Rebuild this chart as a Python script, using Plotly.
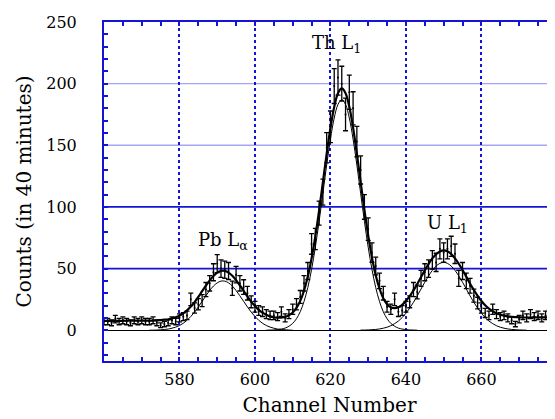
import plotly.graph_objects as go

channels = list(range(560, 681))

counts = [
    7, 7, 6, 9, 7, 8, 7, 6, 8, 7,
    8, 7, 7, 8, 6, 4, 5, 6, 8, 7,
    10, 11, 12, 25, 18, 21, 24, 33, 38, 47,
    54, 50, 49, 48, 34, 45, 38, 35, 30, 23,
    19, 16, 15, 13, 12, 12, 11, 15, 10, 13,
    17, 21, 27, 38, 48, 70, 74, 95, 112, 148,
    165, 198, 205, 200, 175, 193, 180, 153, 130, 100,
    82, 63, 52, 40, 30, 19, 17, 25, 15, 16,
    19, 23, 33, 31, 42, 47, 50, 57, 55, 66,
    63, 66, 68, 62, 42, 48, 40, 36, 28, 22,
    18, 14, 12, 17, 13, 11, 12, 10, 8, 5,
    9, 12, 10, 13, 11, 12, 10, 12, 13, 11, 12,
]

errors = [
    2.6, 2.6, 2.4, 3.0, 2.6, 2.8, 2.6, 2.4, 2.8, 2.6,
    2.8, 2.6, 2.6, 2.8, 2.4, 2.0, 2.2, 2.4, 2.8, 2.6,
    3.2, 3.3, 3.5, 5.0, 4.2, 4.6, 4.9, 5.7, 6.2, 6.9,
    7.3, 7.1, 7.0, 6.9, 5.8, 6.7, 6.2, 5.9, 5.5, 4.8,
    4.4, 4.0, 3.9, 3.6, 3.5, 3.5, 3.3, 3.9, 3.2, 3.6,
    4.1, 4.6, 5.2, 6.2, 6.9, 8.4, 8.6, 9.7, 10.6, 12.2,
    12.8, 14.1, 14.3, 14.1, 13.2, 13.9, 13.4, 12.4, 11.4, 10.0,
    9.1, 7.9, 7.2, 6.3, 5.5, 4.4, 4.1, 5.0, 3.9, 4.0,
    4.4, 4.8, 5.7, 5.6, 6.5, 6.9, 7.1, 7.5, 7.4, 8.1,
    7.9, 8.1, 8.2, 7.9, 6.5, 6.9, 6.3, 6.0, 5.3, 4.7,
    4.2, 3.7, 3.5, 4.1, 3.6, 3.3, 3.5, 3.2, 2.8, 2.2,
    3.0, 3.5, 3.2, 3.6, 3.3, 3.5, 3.2, 3.5, 3.6, 3.3, 3.5,
]

fit_total = [
    7.5, 7.5, 7.6, 7.6, 7.6, 7.6, 7.7, 7.7, 7.7, 7.7,
    7.8, 7.8, 7.8, 7.8, 7.9, 8.2, 8.5, 8.8, 9.6, 10.5,
    11.8, 13.6, 16.1, 19.2, 22.8, 27.0, 31.6, 36.1, 40.4, 44.0,
    46.7, 48.1, 48.1, 46.7, 44.2, 40.6, 36.3, 31.8, 27.4, 23.2,
    19.6, 16.5, 14.2, 12.5, 11.2, 10.4, 10.1, 10.2, 10.7, 12.1,
    14.4, 18.1, 23.8, 32.1, 43.5, 58.2, 76.3, 97.2, 120.1, 143.0,
    164.0, 181.1, 192.2, 196.1, 192.2, 181.2, 164.2, 143.2, 120.3, 97.6,
    76.9, 59.0, 44.5, 33.6, 26.0, 21.1, 18.5, 17.9, 18.6, 20.6,
    23.7, 27.6, 32.3, 37.4, 43.0, 48.5, 53.7, 58.2, 61.7, 63.9,
    64.8, 64.0, 61.8, 58.3, 53.9, 48.8, 43.3, 37.7, 32.6, 27.9,
    23.7, 20.2, 17.5, 15.4, 13.7, 12.5, 11.8, 11.2, 10.8, 10.6,
    10.5, 10.3, 10.3, 10.3, 10.4, 10.4, 10.4, 10.4, 10.5, 10.5, 10.5,
]

pb_x = list(range(572, 611))
pb_y = [
    0, 0, 0.1,
    0.3, 0.6, 0.9, 1.6, 2.5,
    3.8, 5.6, 8.0, 11.1, 14.7, 18.9, 23.4, 27.9, 32.2, 35.8,
    38.4, 39.8, 39.8, 38.4, 35.8, 32.2, 27.9, 23.4, 18.9, 14.7,
    11.1, 8.0, 5.6, 3.8, 2.5, 1.6, 0.9, 0.6, 0.3, 0.1,
    0,
]

th_x = list(range(603, 644))
th_y = [
    0, 0.1, 0.2, 0.5, 0.9, 1.7, 3.2,
    5.5, 9.3, 15.0, 23.3, 34.6, 49.3, 67.4, 88.3, 111.1, 134.0,
    155.0, 172.1, 183.1, 187.0, 183.1, 172.1, 155.0, 134.0, 111.1, 88.3,
    67.4, 49.3, 34.6, 23.3, 15.0, 9.3, 5.5, 3.2, 1.7, 0.9,
    0.5, 0.2, 0.1, 0,
]

u_x = list(range(628, 673))
u_y = [
    0.1, 0.1,
    0.2, 0.4, 0.6, 1.0, 1.6, 2.4, 3.6, 5.3, 7.4, 10.2,
    13.7, 17.9, 22.6, 27.8, 33.4, 38.9, 44.0, 48.5, 52.0, 54.2,
    55.0, 54.2, 52.0, 48.5, 44.0, 38.9, 33.4, 27.8, 22.6, 17.9,
    13.7, 10.2, 7.4, 5.3, 3.6, 2.4, 1.6, 1.0, 0.6, 0.4,
    0.2, 0.1, 0,
]

x_tick_vals = [580, 600, 620, 640, 660]
y_tick_vals = [0, 50, 100, 150, 200, 250]
grid_strong = [50, 100]
grid_light = [150, 200]

labels = ["Pb L<sub>α</sub>", "Th L<sub>1</sub>", "U L<sub>1</sub>"]
label_x = [591.5, 621.7, 651.0]
label_y = [72, 232, 86]

BLUE = "rgb(20,20,215)"
LIGHT = "rgb(165,165,245)"
FONT = "DejaVu Serif"

fig = go.Figure()

for gx, gy in [(pb_x, pb_y), (th_x, th_y), (u_x, u_y)]:
    fig.add_trace(go.Scatter(x=gx, y=gy, mode="lines", line=dict(color="black", width=1, shape="spline"),
                             hoverinfo="skip", showlegend=False))

fig.add_trace(go.Scatter(x=channels, y=fit_total, mode="lines",
                         line=dict(color="black", width=2.2, shape="spline"), showlegend=False))

fig.add_trace(go.Scatter(x=channels, y=counts, mode="markers",
                         marker=dict(color="black", size=2),
                         error_y=dict(type="data", array=errors, visible=True, color="black", thickness=1.3, width=2.5),
                         showlegend=False))

shapes = []
for g in grid_strong:
    shapes.append(dict(type="line", xref="paper", x0=0, x1=1, yref="y", y0=g, y1=g,
                       line=dict(color=BLUE, width=1.8), layer="below"))
for g in grid_light:
    shapes.append(dict(type="line", xref="paper", x0=0, x1=1, yref="y", y0=g, y1=g,
                       line=dict(color=LIGHT, width=1.3), layer="below"))

annotations = []
for t, ax_, ay_ in zip(labels, label_x, label_y):
    annotations.append(dict(x=ax_, y=ay_, text=t, showarrow=False, xref="x", yref="y",
                            font=dict(family=FONT, size=18, color="black")))

# page body has an 8px margin, so the figure is sized 8px smaller
fig.update_layout(
    width=547, height=411,
    margin=dict(l=96, r=0, t=14, b=58),
    paper_bgcolor="white", plot_bgcolor="white",
    font=dict(family=FONT, color="black"),
    shapes=shapes, annotations=annotations,
    showlegend=False,
)

fig.update_xaxes(
    automargin=False,
    range=[560, 679.5], tickmode="array", tickvals=x_tick_vals,
    ticks="inside", ticklen=4, tickwidth=1.5, tickcolor=BLUE,
    showline=True, linecolor=BLUE, linewidth=2, mirror="allticks",
    showgrid=True, gridcolor=BLUE, gridwidth=1.5, griddash="dot",
    zeroline=False,
    minor=dict(tickmode="linear", tick0=560, dtick=5, ticks="inside", ticklen=4, tickcolor=BLUE, tickwidth=1.5, showgrid=False),
    tickfont=dict(family=FONT, size=16, color="black"),
    ticklabelstandoff=3,
    title=dict(text="Channel Number", font=dict(family=FONT, size=20, color="black"), standoff=10),
)

fig.update_yaxes(
    automargin=False,
    range=[-25, 250], tickmode="array", tickvals=y_tick_vals,
    ticks="inside", ticklen=4, tickwidth=1.5, tickcolor=BLUE,
    showline=True, linecolor=BLUE, linewidth=2, mirror="allticks",
    showgrid=False,
    zeroline=True, zerolinecolor="black", zerolinewidth=1.2,
    minor=dict(tickmode="linear", tick0=0, dtick=10, ticks="inside", ticklen=4, tickcolor=BLUE, tickwidth=1.5, showgrid=False),
    tickfont=dict(family=FONT, size=16, color="black"),
    ticklabelstandoff=22,
    title=dict(text="Counts (in 40 minutes)", font=dict(family=FONT, size=20, color="black"), standoff=9),
)

fig.write_html("out.html")
